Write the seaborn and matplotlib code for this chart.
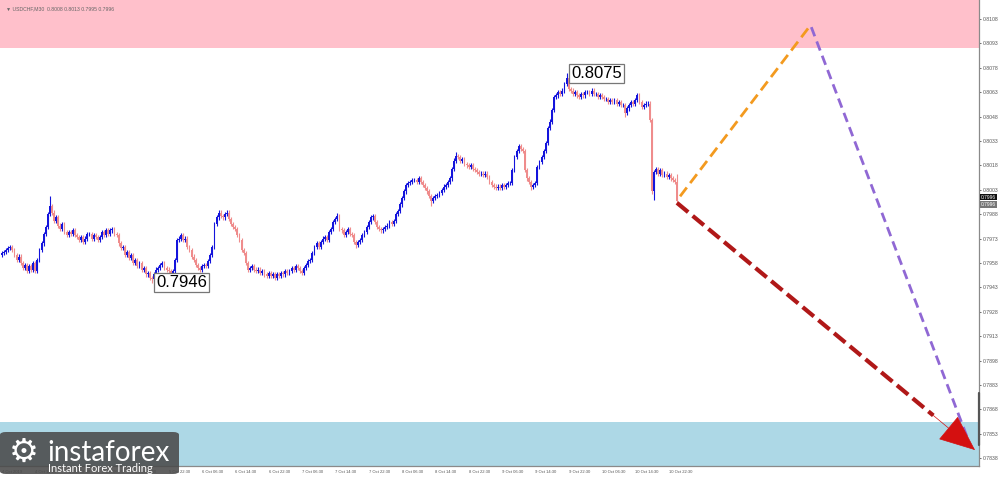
import matplotlib
matplotlib.use("Agg")
import matplotlib.pyplot as plt
import seaborn as sns
import numpy as np
from matplotlib.patches import FancyBboxPatch

# USDCHF M30 candle closes (open = previous close)
closes_p1 = [0.7964, 0.7965, 0.7966, 0.7967, 0.7968, 0.7966, 0.7963, 0.7960, 0.7962, 0.7958, 0.7955, 0.7957, 0.7953, 0.7956, 0.7954, 0.7958,
             0.7953, 0.7960, 0.7966, 0.7970, 0.7976, 0.7980, 0.7988, 0.7993, 0.7989, 0.7984, 0.7986, 0.7981, 0.7979, 0.7982, 0.7977, 0.7975,
             0.7977, 0.7976, 0.7978, 0.7975, 0.7974, 0.7972, 0.7974, 0.7971, 0.7973, 0.7976, 0.7976, 0.7973, 0.7975, 0.7974, 0.7972, 0.7974]
closes_p2 = [0.7977, 0.7975, 0.7978, 0.7976, 0.7978, 0.7979, 0.7976, 0.7975, 0.7970, 0.7967, 0.7968, 0.7963, 0.7965, 0.7961, 0.7963, 0.7958,
             0.7960, 0.7956, 0.7958, 0.7954, 0.7955, 0.7951, 0.7952, 0.7949, 0.7948, 0.7951, 0.7954, 0.7955, 0.7957, 0.7958, 0.7955, 0.7954,
             0.7953, 0.7952, 0.7953, 0.7960, 0.7972, 0.7973, 0.7975, 0.7972, 0.7973, 0.7968, 0.7966, 0.7962, 0.7960, 0.7957, 0.7955, 0.7954]
closes_p3 = [0.7956, 0.7957, 0.7956, 0.7959, 0.7963, 0.7968, 0.7982, 0.7986, 0.7989, 0.7987, 0.7986, 0.7988, 0.7989, 0.7985, 0.7982, 0.7980,
             0.7979, 0.7975, 0.7972, 0.7966, 0.7964, 0.7958, 0.7954, 0.7955, 0.7956, 0.7954, 0.7953, 0.7954, 0.7952, 0.7953, 0.7951, 0.7950,
             0.7952, 0.7950, 0.7951, 0.7949, 0.7951, 0.7950, 0.7952, 0.7951, 0.7953, 0.7952, 0.7953, 0.7955, 0.7954, 0.7956, 0.7955, 0.7953]
closes_p4 = [0.7952, 0.7955, 0.7957, 0.7959, 0.7960, 0.7964, 0.7968, 0.7970, 0.7968, 0.7971, 0.7973, 0.7974, 0.7972, 0.7977, 0.7979, 0.7983,
             0.7985, 0.7987, 0.7979, 0.7978, 0.7975, 0.7977, 0.7979, 0.7976, 0.7975, 0.7971, 0.7969, 0.7971, 0.7972, 0.7975, 0.7977, 0.7980,
             0.7983, 0.7986, 0.7987, 0.7983, 0.7980, 0.7979, 0.7978, 0.7979, 0.7980, 0.7981, 0.7983, 0.7982, 0.7984, 0.7988, 0.7990, 0.7994]
closes_p5 = [0.7998, 0.8002, 0.8006, 0.8007, 0.8008, 0.8009, 0.8009, 0.8008, 0.8010, 0.8008, 0.8006, 0.8004, 0.8002, 0.7999, 0.7996, 0.7998,
             0.7999, 0.8000, 0.8001, 0.8003, 0.8005, 0.8006, 0.8008, 0.8010, 0.8016, 0.8021, 0.8024, 0.8023, 0.8021, 0.8022, 0.8019, 0.8018,
             0.8017, 0.8018, 0.8016, 0.8015, 0.8014, 0.8013, 0.8013, 0.8012, 0.8013, 0.8011, 0.8008, 0.8006, 0.8005, 0.8004, 0.8005, 0.8004]
closes_p6 = [0.8006, 0.8005, 0.8006, 0.8007, 0.8007, 0.8015, 0.8023, 0.8027, 0.8030, 0.8028, 0.8027, 0.8015, 0.8010, 0.8008, 0.8005, 0.8006,
             0.8007, 0.8017, 0.8020, 0.8023, 0.8027, 0.8032, 0.8041, 0.8045, 0.8052, 0.8060, 0.8061, 0.8063, 0.8062, 0.8064, 0.8068, 0.8072,
             0.8065, 0.8064, 0.8062, 0.8063, 0.8061, 0.8060, 0.8062, 0.8061, 0.8063, 0.8063, 0.8062, 0.8064, 0.8062, 0.8062, 0.8060, 0.8061]
closes_p7 = [0.8060, 0.8059, 0.8059, 0.8057, 0.8058, 0.8057, 0.8058, 0.8056, 0.8057, 0.8055, 0.8055, 0.8050, 0.8053, 0.8055, 0.8057, 0.8056,
             0.8058, 0.8061, 0.8057, 0.8054, 0.8055, 0.8056, 0.8056, 0.8046, 0.8002, 0.8014, 0.8016, 0.8013, 0.8015, 0.8012, 0.8013, 0.8011,
             0.8012, 0.8010, 0.8009, 0.8008, 0.7996]
first_open = 0.7963

# extremes of some candles (index: price)
high_marks = {23: 0.7999, 161: 0.7989, 218: 0.8026, 248: 0.8031, 271: 0.8075, 324: 0.8013}
low_marks = {72: 0.7946, 170: 0.7967, 206: 0.7993, 254: 0.8003, 299: 0.8048, 313: 0.7997, 324: 0.7995}

time_labels = ["4 Oct 2019", "4 Oct 14:30", "4 Oct 22:30", "5 Oct 06:30", "5 Oct 14:30", "5 Oct 22:30",
               "6 Oct 06:30", "6 Oct 14:30", "6 Oct 22:30", "7 Oct 06:30", "7 Oct 14:30", "7 Oct 22:30",
               "8 Oct 06:30", "8 Oct 14:30", "8 Oct 22:30", "9 Oct 06:30", "9 Oct 14:30", "9 Oct 22:30",
               "10 Oct 06:30", "10 Oct 14:30", "10 Oct 22:30"]
price_ticks = [0.7838, 0.7853, 0.7868, 0.7883, 0.7898, 0.7913, 0.7928, 0.7943, 0.7958, 0.7973,
               0.7988, 0.8003, 0.8018, 0.8033, 0.8048, 0.8063, 0.8078, 0.8093, 0.8108]

resistance_zone = [0.8090, 0.8130]
support_zone = [0.7820, 0.7860]

# forecast paths (candle index, price)
path_up = [(325.5, 0.7999), (388.0, 0.8104)]
path_down = [(388.5, 0.8103), (463.3, 0.7851)]
path_main = [(324.0, 0.7995), (467.1, 0.7843)]

labels_hl = [(73.9, 0.7946, "0.7946"), (273.2, 0.80745, "0.8075")]

sns.set_style("white")
plt.rcParams['font.family'] = ['Liberation Sans', 'DejaVu Sans']

fig = plt.figure(figsize=(10, 4.78), dpi=100)
ax = fig.add_axes([0, 12 / 478, 0.979, 466 / 478])

ax.axhspan(resistance_zone[0], resistance_zone[1], color="#ffc0cb", lw=0, zorder=0)
ax.axhspan(support_zone[0], support_zone[1], color="#add8e6", lw=0, zorder=0)

closes = np.array(closes_p1 + closes_p2 + closes_p3 + closes_p4 + closes_p5 + closes_p6 + closes_p7)
opens = np.concatenate([[first_open], closes[:-1]])
idx = np.arange(len(closes))
wick = 0.00013
highs = np.maximum(opens, closes) + wick
lows = np.minimum(opens, closes) - wick
for k, v in high_marks.items():
    highs[k] = v
for k, v in low_marks.items():
    lows[k] = v

bull = closes >= opens
colors = np.where(bull, "#1414dc", "#ef8c8c")
ax.vlines(idx, lows, highs, colors=colors, lw=0.8, zorder=2)
ax.bar(idx, closes - opens, bottom=opens, width=0.9, color=colors, lw=0, zorder=3)

# forecast lines
(x0, y0), (x1, y1) = path_up
ax.plot([x0, x1], [y0, y1], color="#f39a1f", lw=2.0, dashes=(4, 2), zorder=4)
(x0, y0), (x1, y1) = path_down
ax.plot([x0, x1], [y0, y1], color="#9068d4", lw=2.0, dashes=(3.5, 2), zorder=4)
(x0, y0), (x1, y1) = path_main
t = 0.86
xb, yb = x0 + (x1 - x0) * t, y0 + (y1 - y0) * t
ax.plot([x0, xb], [y0, yb], color="#b01818", lw=3.0, dashes=(3.5, 1.4), zorder=5)
ax.annotate("", xy=(x1, y1), xytext=(xb, yb),
            arrowprops=dict(arrowstyle="-|>,head_length=1.0,head_width=0.42", mutation_scale=24,
                            color="#d41010", lw=0.5, shrinkA=0, shrinkB=0), zorder=6)

for x, y, s in labels_hl:
    ax.text(x, y, s, fontsize=12, color="black", ha="left", va="center",
            bbox=dict(boxstyle="square,pad=0.12", fc="white", ec="#777777", lw=0.9), zorder=7)

ax.set_xlim(-0.96, 469.0)
ax.set_ylim(0.78332, 0.81197)

ax.yaxis.tick_right()
ax.set_yticks(price_ticks)
ax.set_yticklabels([f"{p:.4f}" for p in price_ticks])
ax.set_xticks(np.arange(len(time_labels)) * 16)
ax.set_xticklabels(time_labels, ha="left")
ax.tick_params(axis="y", labelsize=3.7, colors="#555555", length=1.6, width=0.6, pad=1)
ax.tick_params(axis="x", labelsize=3.0, colors="#555555", length=2.0, width=0.6, pad=0.8)
for s in ["top", "left"]:
    ax.spines[s].set_visible(False)
for s in ["right", "bottom"]:
    ax.spines[s].set_color("#8a8a8a")
    ax.spines[s].set_linewidth(0.9)

# scroll marker on the price scale
ax.plot([469.0, 469.0], [0.7846, 0.7878], color="#555555", lw=1.6, clip_on=False, zorder=8)

# current price tags
ax.text(470.0, 0.79985, "0.7996", fontsize=3.5, color="white", va="center", ha="left",
        bbox=dict(boxstyle="square,pad=0.15", fc="#111111", ec="none"), zorder=9, clip_on=False)
ax.text(470.0, 0.79940, "0.7996", fontsize=3.5, color="white", va="center", ha="left",
        bbox=dict(boxstyle="square,pad=0.15", fc="#777777", ec="none"), zorder=9, clip_on=False)

fig.text(0.006, 1 - 9 / 478, "\u25bc USDCHF,M30  0.8008 0.8013 0.7995 0.7996", fontsize=3.7,
         color="#666666", va="center", ha="left", family=["Liberation Sans", "DejaVu Sans"])

# logo
logo = FancyBboxPatch((0, 4 / 478), 0.179, 42 / 478, boxstyle="round,pad=0,rounding_size=0.006",
                      transform=fig.transFigure, fc="#4a4a4a", ec="none", alpha=0.88, zorder=10)
fig.add_artist(logo)
fig.text(0.024, 1 - 452 / 478, "\u2699", fontsize=24, color="white", ha="center", va="center",
         family="DejaVu Sans", zorder=11)
fig.text(0.047, 1 - 461 / 478, "instaforex", fontsize=20, family="Lato", color="white",
         ha="left", va="baseline", zorder=11)
fig.text(0.048, 1 - 472 / 478, "Instant Forex Trading", fontsize=8, family="Lato", color="white",
         ha="left", va="baseline", zorder=11)

fig.savefig("out.png", dpi=100)
